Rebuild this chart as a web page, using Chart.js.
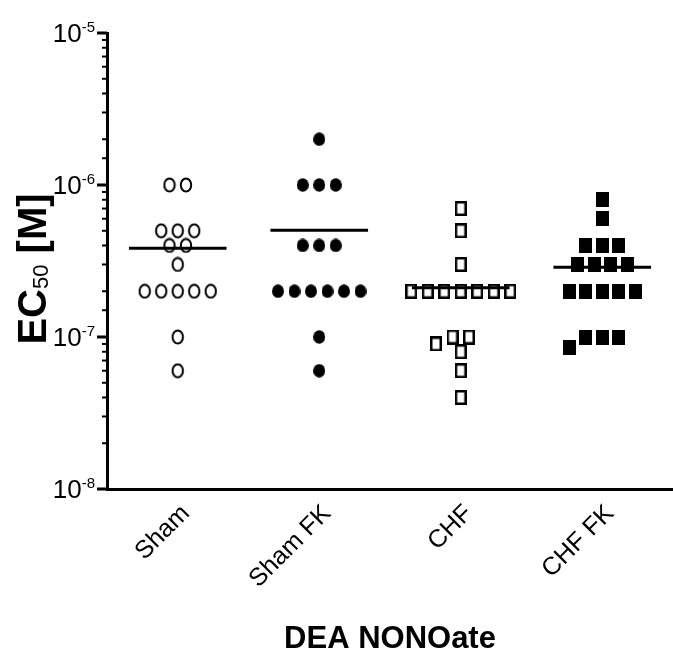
<!DOCTYPE html>
<html>
<head>
<meta charset="utf-8">
<script src="https://cdn.jsdelivr.net/npm/chart.js@4.4.1/dist/chart.umd.min.js"></script>
<style>
  html, body { margin: 0; padding: 0; background: #fff; }
  #wrap { width: 673px; height: 657px; }
</style>
</head>
<body>
<div id="wrap"><canvas id="ec50Chart" width="673" height="657"></canvas></div>
<script>
// groups on the x axis
const categories = ['Sham', 'Sham FK', 'CHF', 'CHF FK'];

// EC50 values (M), one entry per animal
const sham   = [1e-6, 1e-6, 5e-7, 5e-7, 5e-7, 4e-7, 4e-7, 3e-7, 2e-7, 2e-7, 2e-7, 2e-7, 2e-7, 1e-7, 6e-8];
const shamFK = [2e-6, 1e-6, 1e-6, 1e-6, 4e-7, 4e-7, 4e-7, 2e-7, 2e-7, 2e-7, 2e-7, 2e-7, 2e-7, 1e-7, 6e-8];
const chf    = [7e-7, 5e-7, 3e-7, 2e-7, 2e-7, 2e-7, 2e-7, 2e-7, 2e-7, 2e-7, 1e-7, 1e-7, 9e-8, 8e-8, 6e-8, 4e-8];
const chfFK  = [8e-7, 6e-7, 4e-7, 4e-7, 4e-7, 3e-7, 3e-7, 3e-7, 3e-7, 2e-7, 2e-7, 2e-7, 2e-7, 2e-7, 1e-7, 1e-7, 1e-7, 8.5e-8];

// y axis decades and their labels (10 with exponent)
const yDecades = [1e-8, 1e-7, 1e-6, 1e-5];
const yTickBase = '10';
const yTickExponents = ['-8', '-7', '-6', '-5'];

const xTitle = 'DEA NONOate';
const FONT = '"Liberation Sans", Arial, Helvetica, sans-serif';

// --- symbol shapes (slightly taller than wide) ---
function makeSymbol(kind) {
  const c = document.createElement('canvas');
  const ctx = c.getContext('2d');
  ctx.fillStyle = '#000';
  ctx.strokeStyle = '#000';
  if (kind === 'openCircle') {
    c.width = 14; c.height = 16;
    ctx.lineWidth = 2;
    ctx.beginPath(); ctx.ellipse(7, 8, 5.2, 6.5, 0, 0, Math.PI * 2); ctx.stroke();
  } else if (kind === 'dot') {
    c.width = 12; c.height = 14;
    ctx.beginPath(); ctx.ellipse(6, 7, 6, 6.8, 0, 0, Math.PI * 2); ctx.fill();
  } else if (kind === 'openSquare') {
    c.width = 12; c.height = 15;
    ctx.lineWidth = 2.5;
    ctx.strokeRect(1.25, 1.25, 9.5, 12.5);
  } else {
    c.width = 13; c.height = 15;
    ctx.fillRect(0, 0, 13, 15);
  }
  return c;
}

// --- spread equal / close values sideways so symbols don't overlap ---
const SLOT = 16.5 / 141.5;   // step between neighbours, in category units
const SLOT_PX = 16.5, DECADE_PX = 152, SYM_W = 12, SYM_H = 14;

function spread(values) {
  const offs = new Array(values.length);
  const placed = [];
  const hits = (x, y, list) => list.some(p => Math.abs(p.x - x) * SLOT_PX < SYM_W && Math.abs(p.y - y) < SYM_H);
  const order = values.map((v, i) => i).sort((a, b) => values[b] - values[a]);
  let k = 0;
  while (k < order.length) {
    let j = k;
    while (j < order.length && values[order[j]] === values[order[k]]) j++;
    const group = order.slice(k, j);
    const y = -Math.log10(values[group[0]]) * DECADE_PX;
    const row = [];
    group.forEach(() => {
      for (let s = 0; s < 40; s++) {
        const x = Math.ceil(s / 2) * 0.5 * (s % 2 ? -1 : 1);
        if (!hits(x, y, placed.concat(row))) { row.push({ x, y }); break; }
      }
    });
    const mean = row.reduce((a, p) => a + p.x, 0) / row.length;
    const centred = row.map(p => ({ x: p.x - mean, y }));
    const final = centred.every(p => !hits(p.x, p.y, placed)) ? centred : row;
    final.forEach((p, n) => { offs[group[n]] = p.x; placed.push(p); });
    k = j;
  }
  return offs;
}

const groups = [sham, shamFK, chf, chfFK];
const symbols = ['openCircle', 'dot', 'openSquare', 'square'].map(makeSymbol);

const pointSets = groups.map((vals, gi) => {
  const offs = spread(vals);
  return {
    type: 'scatter',
    data: vals.map((v, i) => ({ x: gi + offs[i] * SLOT, y: v })),
    pointStyle: symbols[gi],
    pointRadius: 7,
    order: 1
  };
});

// mean bars
const meanSets = groups.map((vals, gi) => {
  const m = vals.reduce((a, b) => a + b, 0) / vals.length;
  return {
    type: 'line',
    data: [{ x: gi - 0.345, y: m }, { x: gi + 0.345, y: m }],
    borderColor: '#000',
    borderWidth: 3,
    pointRadius: 0,
    order: 0
  };
});

// y axis: minor/major ticks, 10^n labels and the EC50 title
const yAxisDecor = {
  id: 'yAxisDecor',
  afterDraw(chart) {
    const { ctx } = chart;
    const y = chart.scales.y;
    const x0 = y.right;
    ctx.save();
    ctx.strokeStyle = '#000';
    ctx.fillStyle = '#000';
    y.ticks.forEach(t => {
      const py = y.getPixelForValue(t.value);
      const lg = Math.log10(t.value);
      const major = Math.abs(lg - Math.round(lg)) < 1e-6;
      ctx.lineWidth = major ? 3 : 2;
      ctx.beginPath();
      ctx.moveTo(x0 - (major ? 10 : 5), py);
      ctx.lineTo(x0, py);
      ctx.stroke();
    });

    ctx.textBaseline = 'alphabetic';
    yDecades.forEach((d, i) => {
      const py = y.getPixelForValue(d);
      const right = x0 - 12;
      ctx.font = '15px ' + FONT;
      const ew = ctx.measureText(yTickExponents[i]).width;
      ctx.textAlign = 'left';
      ctx.fillText(yTickExponents[i], right - ew, py - 1);
      ctx.font = '26px ' + FONT;
      ctx.textAlign = 'right';
      ctx.fillText(yTickBase, right - ew, py + 9);
    });

    // "EC50 [M]" with a small 50
    const parts = [
      { t: 'EC', f: 'bold 40px ' + FONT, dy: 0 },
      { t: '50', f: '22px ' + FONT, dy: 2 },
      { t: ' [M]', f: 'bold 40px ' + FONT, dy: 0 }
    ];
    let total = 0;
    parts.forEach(p => { ctx.font = p.f; p.w = ctx.measureText(p.t).width; total += p.w; });
    ctx.translate(46, 269);
    ctx.rotate(-Math.PI / 2);
    ctx.textAlign = 'left';
    let cx = -total / 2;
    parts.forEach(p => { ctx.font = p.f; ctx.fillText(p.t, cx, p.dy); cx += p.w; });
    ctx.restore();
  }
};

new Chart(document.getElementById('ec50Chart'), {
  type: 'scatter',
  data: { datasets: meanSets.concat(pointSets) },
  options: {
    responsive: false,
    animation: false,
    layout: { autoPadding: false, padding: { top: 33, right: 0, left: 0, bottom: 0 } },
    plugins: { legend: { display: false }, tooltip: { enabled: false } },
    scales: {
      x: {
        type: 'linear',
        min: -0.5,
        max: 3.5,
        afterBuildTicks: s => { s.ticks = categories.map((c, i) => ({ value: i })); },
        afterFit: s => { s.height = 168; s.paddingLeft = 0; s.paddingRight = 0; },
        grid: { display: false, drawTicks: false },
        border: { display: true, color: '#000', width: 3 },
        ticks: {
          autoSkip: false,
          minRotation: 45,
          maxRotation: 45,
          padding: 10,
          labelOffset: 8,
          color: '#000',
          font: { family: FONT, size: 25 },
          callback: v => categories[v]
        },
        title: {
          display: true,
          text: xTitle,
          color: '#000',
          font: { family: FONT, size: 31, weight: 'bold', lineHeight: 1.1 },
          padding: { top: 0, bottom: 0 }
        }
      },
      y: {
        type: 'logarithmic',
        min: 1e-8,
        max: 1e-5,
        afterFit: s => { s.width = 107; s.paddingTop = 0; s.paddingBottom = 0; },
        grid: { display: false, drawTicks: false },
        border: { display: true, color: '#000', width: 3 },
        ticks: { display: false }
      }
    }
  },
  plugins: [yAxisDecor]
});
</script>
</body>
</html>
